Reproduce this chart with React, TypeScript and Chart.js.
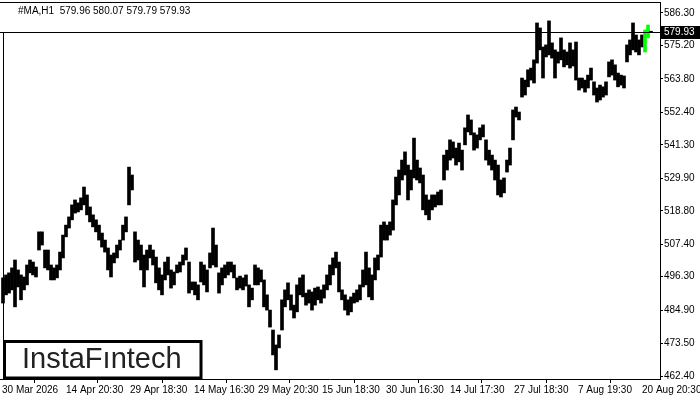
import { useEffect, useRef } from "react";
import { Chart, registerables } from "chart.js";

Chart.register(...registerables);

const symbolTitle = "#MA,H1  579.96 580.07 579.79 579.93";
const lastClose = 579.93;

const highs: number[] = [
  495.9, 496.9, 497.6, 499.3, 502.0, 498.6, 496.9, 496.2, 500.3, 502.0,
  501.3, 499.6, 511.6, 511.6, 505.4, 505.4, 500.3, 499.3, 500.3, 504.7,
  510.5, 513.9, 516.7, 520.8, 522.5, 521.5, 523.2, 526.9, 524.2, 520.1,
  517.4, 515.7, 513.9, 511.2, 508.8, 506.1, 503.7, 504.4, 507.1, 508.8,
  513.9, 516.7, 533.7, 531.0, 511.6, 508.8, 507.1, 503.7, 505.4, 507.1,
  505.4, 503.0, 499.3, 496.9, 501.3, 503.0, 498.6, 497.9, 500.3, 501.3,
  503.7, 506.1, 501.3, 494.5, 494.5, 493.5, 501.3, 500.3, 498.6, 504.4,
  512.9, 507.1, 497.6, 499.3, 500.3, 501.3, 501.3, 500.3, 495.9, 496.5,
  495.9, 496.9, 493.5, 492.4, 500.3, 499.3, 498.6, 495.2, 490.1, 484.9,
  478.1, 473.0, 476.4, 488.4, 491.8, 494.2, 490.1, 486.6, 493.5, 495.9,
  496.9, 490.7, 491.8, 491.1, 492.4, 492.8, 491.8, 493.5, 496.9, 500.3,
  502.7, 504.7, 501.3, 491.8, 490.1, 488.4, 489.4, 490.7, 491.8, 493.5,
  498.6, 504.7, 499.3, 496.9, 502.7, 503.7, 513.9, 515.0, 513.9, 515.0,
  522.5, 530.3, 532.7, 536.1, 538.9, 534.4, 532.7, 543.6, 536.1, 533.4,
  531.0, 524.2, 522.5, 524.2, 524.2, 525.2, 525.9, 537.8, 539.5, 543.0,
  542.3, 540.2, 541.9, 539.5, 547.1, 551.5, 549.8, 545.4, 544.7, 547.1,
  548.1, 543.0, 539.5, 537.8, 536.1, 534.4, 529.3, 530.0, 536.1, 540.2,
  553.2, 554.2, 552.5, 564.1, 563.4, 566.9, 567.5, 570.3, 582.9, 581.2,
  574.7, 575.4, 583.6, 576.1, 573.7, 573.0, 577.8, 573.7, 573.0, 576.1,
  573.7, 576.4, 564.1, 564.1, 563.4, 565.1, 567.5, 562.8, 560.7, 561.7,
  561.1, 562.8, 569.6, 570.3, 568.6, 565.8, 565.1, 564.8, 575.4, 577.1,
  582.9, 578.8, 577.1, 578.8, 580.5, 582.2, 580.07,
];

const lows: number[] = [
  487.3, 490.1, 490.7, 491.8, 486.0, 492.8, 488.4, 491.8, 493.5, 497.6,
  496.9, 496.2, 505.4, 507.1, 499.3, 498.6, 495.2, 495.2, 495.9, 498.6,
  502.7, 509.9, 512.9, 515.7, 518.0, 518.4, 519.1, 520.8, 517.4, 515.0,
  513.3, 511.6, 508.8, 506.4, 504.7, 498.6, 496.2, 501.0, 502.7, 505.4,
  508.8, 511.6, 520.8, 525.9, 501.3, 502.0, 498.6, 492.8, 498.6, 502.7,
  500.3, 494.2, 491.8, 490.1, 495.2, 496.9, 492.4, 493.5, 497.6, 497.9,
  500.3, 502.0, 490.7, 491.8, 490.1, 488.4, 494.5, 493.5, 491.1, 499.3,
  500.3, 499.6, 490.7, 493.5, 495.9, 496.9, 497.9, 495.9, 491.8, 492.4,
  491.8, 493.1, 486.0, 488.4, 493.5, 493.5, 494.5, 486.0, 484.9, 479.1,
  469.6, 464.5, 472.0, 478.1, 486.0, 488.4, 484.9, 482.2, 484.3, 490.1,
  489.4, 486.6, 487.3, 484.9, 486.6, 488.4, 487.3, 489.0, 491.8, 493.5,
  496.9, 499.3, 491.1, 488.4, 484.9, 483.2, 484.3, 487.3, 487.7, 488.4,
  492.8, 493.5, 489.4, 488.4, 495.2, 498.6, 503.0, 508.8, 508.8, 510.5,
  512.2, 520.8, 524.2, 529.3, 531.0, 522.5, 525.9, 530.0, 529.3, 528.3,
  519.1, 517.4, 515.7, 519.1, 520.1, 520.8, 520.8, 529.3, 532.7, 536.1,
  536.8, 534.4, 535.5, 532.7, 541.3, 545.7, 544.7, 539.5, 540.2, 543.0,
  544.0, 536.1, 534.4, 532.7, 529.3, 524.2, 523.5, 524.9, 532.0, 534.4,
  543.0, 550.8, 549.8, 557.6, 558.3, 561.1, 563.4, 562.4, 569.2, 573.7,
  564.1, 571.3, 572.0, 570.9, 564.1, 569.2, 570.3, 567.9, 568.6, 567.5,
  568.2, 563.4, 560.0, 560.7, 559.3, 560.7, 563.4, 558.3, 555.9, 556.6,
  557.6, 558.3, 564.5, 565.1, 563.4, 561.1, 561.7, 560.7, 569.6, 572.0,
  573.7, 573.0, 572.0, 574.7, 573.0, 577.8, 579.79,
];

const yTickValues: number[] = [
  586.3, 575.2, 563.8, 552.4, 541.3, 529.9, 518.8, 507.4, 496.3, 484.9, 473.5, 462.4,
];

const xTickLabels: string[] = [
  "30 Mar 2026", "14 Apr 20:30", "29 Apr 18:30", "14 May 16:30", "29 May 20:30",
  "15 Jun 18:30", "30 Jun 16:30", "14 Jul 17:30", "27 Jul 18:30", "7 Aug 19:30", "20 Aug 20:30",
];
const xTickBars: number[] = [-0.33, 21, 42.33, 63.67, 85, 106.33, 127.67, 149, 170.33, 191.67, 213];

const FONT = '"Liberation Sans", Arial, sans-serif';

export default function App() {
  const ref = useRef<HTMLCanvasElement | null>(null);

  useEffect(() => {
    if (!ref.current) return;
    const n = highs.length;
    const data = highs.map((h, i) => ({ x: i, y: [lows[i], h] }));

    const overlay = {
      id: "overlay",
      afterDraw(chart: any) {
        const { ctx, chartArea } = chart;
        const ys = chart.scales.y;
        ctx.save();
        ctx.strokeStyle = "#000";
        ctx.lineWidth = 1;
        ctx.beginPath();
        ctx.moveTo(chartArea.left, chartArea.top + 0.5);
        ctx.lineTo(chartArea.right, chartArea.top + 0.5);
        ctx.stroke();
        const py = Math.round(ys.getPixelForValue(lastClose)) + 0.5;
        ctx.beginPath();
        ctx.moveTo(chartArea.left, py);
        ctx.lineTo(chartArea.right, py);
        ctx.stroke();
        ctx.beginPath();
        ctx.moveTo(chartArea.left + 3.5, py);
        ctx.lineTo(chartArea.left + 3.5, chartArea.bottom);
        ctx.stroke();
        ctx.fillStyle = "#000";
        ctx.fillRect(chartArea.right + 1, py - 6.5, 700 - chartArea.right - 1, 13);
        ctx.fillStyle = "#fff";
        ctx.font = `10px ${FONT}`;
        ctx.textAlign = "left";
        ctx.textBaseline = "middle";
        ctx.fillText(lastClose.toFixed(2), chartArea.right + 4, py);
        ctx.fillStyle = "#000";
        ctx.fillText(symbolTitle, 18, 11);
        ctx.fillStyle = "#fff";
        ctx.fillRect(3, 340, 199, 39);
        ctx.strokeStyle = "#000";
        ctx.lineWidth = 3;
        ctx.strokeRect(4.5, 341.5, 196.5, 36.5);
        ctx.fillStyle = "#222";
        ctx.font = `500 29px ${FONT}`;
        ctx.textBaseline = "alphabetic";
        ctx.fillText("InstaF\u0131ntech", 22, 368);
        ctx.restore();
      },
    };

    const chart = new Chart(ref.current, {
      type: "bar",
      data: {
        datasets: [
          {
            data: data as any,
            backgroundColor: (c: any) =>
              c.dataIndex >= n - 3 && c.dataIndex < n - 1 ? "#00ff00" : "#000000",
            borderWidth: 0,
            barThickness: 3,
            grouped: false,
          } as any,
        ],
      },
      options: {
        animation: false,
        responsive: false,
        events: [],
        layout: { padding: { left: 0, right: 0, top: 2, bottom: 0 } },
        plugins: { legend: { display: false }, tooltip: { enabled: false } },
        scales: {
          x: {
            type: "linear",
            min: -1,
            max: 219,
            offset: false,
            afterBuildTicks: (s: any) => {
              s.ticks = xTickBars.map((v) => ({ value: v }));
            },
            afterFit: (s: any) => {
              s.height = 21;
              s.paddingLeft = 0;
              s.paddingRight = 0;
            },
            ticks: {
              autoSkip: false,
              maxRotation: 0,
              align: "start",
              padding: 1,
              color: "#000",
              font: { family: FONT, size: 10 },
              callback: (_v: any, i: number) => xTickLabels[i],
            },
            grid: { drawOnChartArea: false, drawTicks: true, tickLength: 4, color: "#000" },
            border: { display: true, color: "#000" },
          },
          y: {
            type: "linear",
            position: "right",
            min: 461.38,
            max: 590.05,
            afterBuildTicks: (s: any) => {
              s.ticks = yTickValues.map((v) => ({ value: v }));
            },
            afterFit: (s: any) => {
              s.width = 40;
              s.paddingTop = 0;
              s.paddingBottom = 0;
            },
            ticks: {
              autoSkip: false,
              padding: 1,
              color: "#000",
              font: { family: FONT, size: 10 },
              callback: (v: any) => Number(v).toFixed(2),
            },
            grid: { drawOnChartArea: false, drawTicks: true, tickLength: 3, color: "#000" },
            border: { display: true, color: "#000" },
          },
        },
      } as any,
      plugins: [overlay],
    });
    return () => chart.destroy();
  }, []);

  return (
    <div style={{ position: "absolute", left: 0, top: 0, width: 700, height: 400, background: "#fff" }}>
      <canvas ref={ref} width={700} height={400} />
    </div>
  );
}
